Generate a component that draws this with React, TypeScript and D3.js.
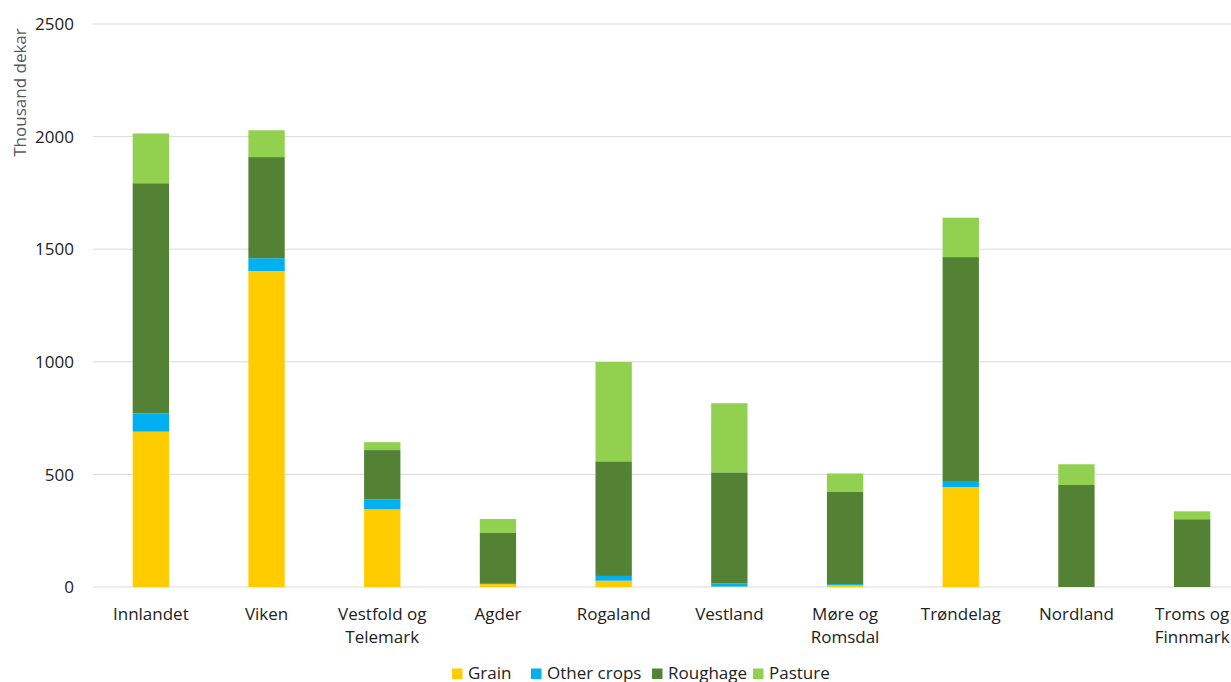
import React from "react";
import * as d3 from "d3";

const categories = [
  "Innlandet",
  "Viken",
  "Vestfold og Telemark",
  "Agder",
  "Rogaland",
  "Vestland",
  "Møre og Romsdal",
  "Trøndelag",
  "Nordland",
  "Troms og Finnmark",
];
const seriesNames = ["Grain", "Other crops", "Roughage", "Pasture"];
const grain = [690, 1403, 345, 13, 28, 2, 8, 444, 0, 0];
const otherCrops = [81, 57, 44, 5, 21, 14, 5, 23, 0, 0];
const roughage = [1022, 449, 219, 222, 509, 493, 409, 998, 453, 301];
const pasture = [221, 119, 35, 62, 441, 307, 82, 175, 92, 35];
const yTicks = [0, 500, 1000, 1500, 2000, 2500];
const colors = ["#FFCC00", "#00B0F0", "#548235", "#92D050"];

const W = 1231;
const H = 682;
const FONT = "'Open Sans', sans-serif";

export default function App() {
  const values = [grain, otherCrops, roughage, pasture];
  const rows = categories.map((c, i) => {
    const r: any = { cat: c };
    seriesNames.forEach((s, k) => (r[s] = values[k][i]));
    return r;
  });
  const stacked = d3.stack().keys(seriesNames)(rows);

  const x = d3.scaleBand().domain(categories).range([93, 1250]).paddingInner(0.686).paddingOuter(0.343);
  const y = d3.scaleLinear().domain([0, 2500]).range([587, 24]);

  const splitLabel = (c: string) => {
    const idx = c.indexOf(" og ");
    if (idx < 0) return [c];
    return [c.slice(0, idx + 3), c.slice(idx + 4)];
  };

  const legendX = [452, 531, 652, 753];

  return (
    <svg width={W} height={H} style={{ position: "absolute", left: 0, top: 0, background: "#fff" }} fontFamily={FONT}>
      {yTicks.map((t) => (
        <g key={t}>
          <line x1={93} x2={W} y1={y(t)} y2={y(t)} stroke="#d9d9d9" strokeWidth={1} />
          <text x={74} y={y(t)} dy="0.36em" textAnchor="end" fontSize={17} fill="#222">
            {t}
          </text>
        </g>
      ))}
      <text transform="translate(26,92.5) rotate(-90)" textAnchor="middle" fontSize={17} fill="#595959">
        Thousand dekar
      </text>
      {stacked.map((s, k) => (
        <g key={s.key} fill={colors[k]}>
          {s.map((d, i) => (
            <rect
              key={i}
              x={x(categories[i])}
              width={x.bandwidth()}
              y={y(d[1])}
              height={Math.max(0, y(d[0]) - y(d[1]))}
            />
          ))}
        </g>
      ))}
      {categories.map((c) => (
        <text key={c} textAnchor="middle" fontSize={17} fill="#222">
          {splitLabel(c).map((line, j) => (
            <tspan key={j} x={(x(c) as number) + x.bandwidth() / 2} y={619.5 + j * 23.5}>
              {line}
            </tspan>
          ))}
        </text>
      ))}
      {seriesNames.map((s, k) => (
        <g key={s} transform={`translate(${legendX[k]},0)`}>
          <rect x={0} y={668.5} width={10.5} height={10.5} fill={colors[k]} />
          <text x={16} y={679} fontSize={17} fill="#222">
            {s}
          </text>
        </g>
      ))}
    </svg>
  );
}
